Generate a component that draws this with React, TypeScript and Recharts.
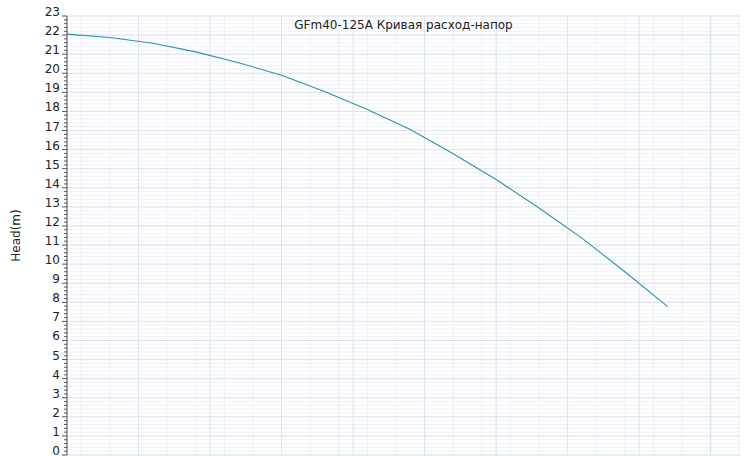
import React from "react";
import { LineChart, Line, XAxis, YAxis, CartesianGrid } from "recharts";

// flow (major grid units) vs head (m)
const flow = [0, 0.6, 1.2, 1.8, 2.4, 3.0, 3.6, 4.2, 4.8, 5.4, 6.0, 6.6, 7.2, 7.8, 8.4];
const head = [22.05, 21.87, 21.57, 21.12, 20.55, 19.9, 19.05, 18.1, 17.05, 15.78, 14.43, 12.94, 11.36, 9.6, 7.77];

const yMajor = [0, 1, 2, 3, 4, 5, 6, 7, 8, 9, 10, 11, 12, 13, 14, 15, 16, 17, 18, 19, 20, 21, 22, 23];
const xMajor = [0, 1, 2, 3, 4, 5, 6, 7, 8, 9];
const xMax = 9.41;

const title = "GFm40-125A Кривая расход-напор";

const data = flow.map((q, i) => ({ q, h: head[i] }));

const step = (max: number, d: number) =>
  Array.from({ length: Math.floor(max / d + 1e-6) + 1 }, (_, i) => Math.round(i * d * 100) / 100);

const yMinor = step(23, 0.2);
const xMinor = step(xMax, 0.2);

const FONT = "'DejaVu Sans', sans-serif";

const YTick = (props: any) => {
  const { x, y, payload } = props;
  const v = payload.value;
  const major = Math.abs(v - Math.round(v)) < 1e-6;
  return (
    <g>
      <line x1={x - (major ? 5 : 3)} x2={x} y1={y} y2={y} stroke="#555" strokeWidth={1} />
      {major && (
        <text x={x - 7} y={y} dy={0} textAnchor="end" fontSize={12} fill="#222" fontFamily={FONT}>
          {v}
        </text>
      )}
    </g>
  );
};

export default function App() {
  return (
    <div style={{ position: "absolute", left: 0, top: 0, width: 746, height: 456, overflow: "hidden", background: "#fff" }}>
      <LineChart width={746} height={480} data={data} margin={{ top: 16, right: 6, left: 0, bottom: 25 }}>
        <CartesianGrid
          stroke="#eef1f8"
          horizontalValues={yMinor}
          verticalValues={xMinor}
        />
        <CartesianGrid
          stroke="#dde2ee"
          horizontalValues={yMajor}
          verticalValues={xMajor}
        />
        <XAxis dataKey="q" type="number" domain={[0, xMax]} hide />
        <YAxis
          type="number"
          domain={[0, 23]}
          ticks={yMinor}
          interval={0}
          width={67}
          tickSize={0}
          tickMargin={0}
          tickLine={false}
          axisLine={{ stroke: "#555" }}
          tick={<YTick />}
          label={{ value: "Head(m)", angle: -90, position: "insideLeft", offset: 16, style: { fontSize: 12, fill: "#222", fontFamily: FONT, textAnchor: "middle" } }}
        />
        <Line
          type="linear"
          dataKey="h"
          stroke="#2b93ab"
          strokeWidth={1.1}
          dot={false}
          isAnimationActive={false}
        />
      </LineChart>
      <div
        style={{
          position: "absolute",
          left: 67,
          width: 673,
          top: 18,
          textAlign: "center",
          fontFamily: FONT,
          fontSize: 12,
          color: "#222",
        }}
      >
        {title}
      </div>
    </div>
  );
}
